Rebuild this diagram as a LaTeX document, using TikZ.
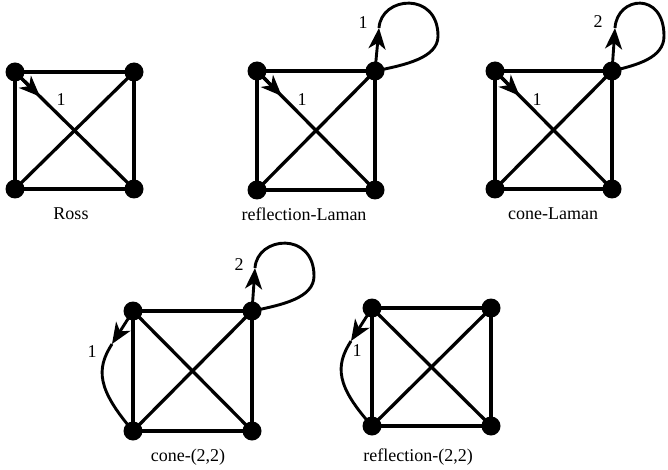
\documentclass[tikz,border=0pt]{standalone}
\usepackage{fontspec}
\setmainfont{Liberation Serif}
\usetikzlibrary{arrows.meta,calc}
\begin{document}
\begin{tikzpicture}[x=1pt,y=-1pt,
  vtx/.style={circle,fill=black,inner sep=0pt,minimum size=19pt},
  edge/.style={line width=3.3pt},
  loopline/.style={line width=2.9pt},
  arr/.style={-{Stealth[length=21pt 0 0,width=17pt 0 0,inset=6pt 0 0]}},
  lab/.style={font=\fontsize{18}{20}\selectfont,inner sep=0pt},
  captxt/.style={font=\fontsize{18}{20}\selectfont,inner sep=0pt}]
\useasboundingbox (0,0) rectangle (668,470);

% Ross
\node[vtx] (a1) at (15,72) {};
\node[vtx] (a2) at (134,72) {};
\node[vtx] (a3) at (15,189) {};
\node[vtx] (a4) at (134,189) {};
% reflection-Laman
\node[vtx] (b1) at (257,71) {};
\node[vtx] (b2) at (375,71) {};
\node[vtx] (b3) at (257,190) {};
\node[vtx] (b4) at (375,190) {};
% cone-Laman
\node[vtx] (c1) at (495,71) {};
\node[vtx] (c2) at (612,71) {};
\node[vtx] (c3) at (495,189) {};
\node[vtx] (c4) at (612,189) {};
% cone-(2,2)
\node[vtx] (d1) at (133,311) {};
\node[vtx] (d2) at (252,311) {};
\node[vtx] (d3) at (133,431) {};
\node[vtx] (d4) at (252,431) {};
% reflection-(2,2)
\node[vtx] (e1) at (372,308) {};
\node[vtx] (e2) at (491,308) {};
\node[vtx] (e3) at (372,426) {};
\node[vtx] (e4) at (491,426) {};

\foreach \g in {a,b,c,d,e}{
  \draw[edge] (\g1.center) -- (\g2.center) -- (\g4.center) -- (\g3.center) -- cycle;
  \draw[edge] (\g1.center) -- (\g4.center);
  \draw[edge] (\g2.center) -- (\g3.center);
}

% diagonal arrows
\foreach \g in {a,b,c}{
  \draw[edge,arr] (\g1.center) -- ($(\g1.center)!0.21!(\g4.center)$);
}
\node[lab] (la) at (61,100) {1};
\node[lab] (lb) at (302,100) {1};
\node[lab] (lc) at (537,100) {1};

% top loops
\coordinate (tb) at ($(b2.center)+(4,-43)$);
\draw[loopline,arr] (b2.center) -- (tb);
\draw[loopline] (tb) .. controls +(2,-32) and +(0,-45) .. ($(b2.center)+(63,-35)$)
  .. controls +(0,22) and +(30,-6) .. (b2.center);
\node[lab] (lb2) at (363,23) {1};

\coordinate (tc) at ($(c2.center)+(3,-43)$);
\draw[loopline,arr] (c2.center) -- (tc);
\draw[loopline] (tc) .. controls +(2,-32) and +(0,-45) .. ($(c2.center)+(52,-35)$)
  .. controls +(0,22) and +(25,-6) .. (c2.center);
\node[lab] (lc2) at (598,22) {2};

\coordinate (td) at ($(d2.center)+(3,-43)$);
\draw[loopline,arr] (d2.center) -- (td);
\draw[loopline] (td) .. controls +(2,-32) and +(0,-45) .. ($(d2.center)+(62,-35)$)
  .. controls +(0,22) and +(30,-6) .. (d2.center);
\node[lab] (ld2) at (239,265) {2};

% left loops
\coordinate (sd) at ($(d1.center)+(-21,33)$);
\draw[loopline,arr] (d1.center) -- (sd);
\draw[loopline] (sd) .. controls ($(d1.center)+(-37,58)$) and ($(d1.center)+(-36,78)$) .. (d3.center);
\node[lab] (ld1) at (92,352) {1};

\coordinate (se) at ($(e1.center)+(-21,33)$);
\draw[loopline,arr] (e1.center) -- (se);
\draw[loopline] (se) .. controls ($(e1.center)+(-37,58)$) and ($(e1.center)+(-36,78)$) .. (e3.center);
\node[lab] (le1) at (357,351) {1};

% captions
\node[captxt] (ca) at (71,214) {Ross};
\node[captxt] (cb) at (304,214) {reflection-Laman};
\node[captxt] (cc) at (553,214) {cone-Laman};
\node[captxt] (cd) at (188,457) {cone-(2,2)};
\node[captxt] (ce) at (418,457) {reflection-(2,2)};
\end{tikzpicture}
\end{document}
